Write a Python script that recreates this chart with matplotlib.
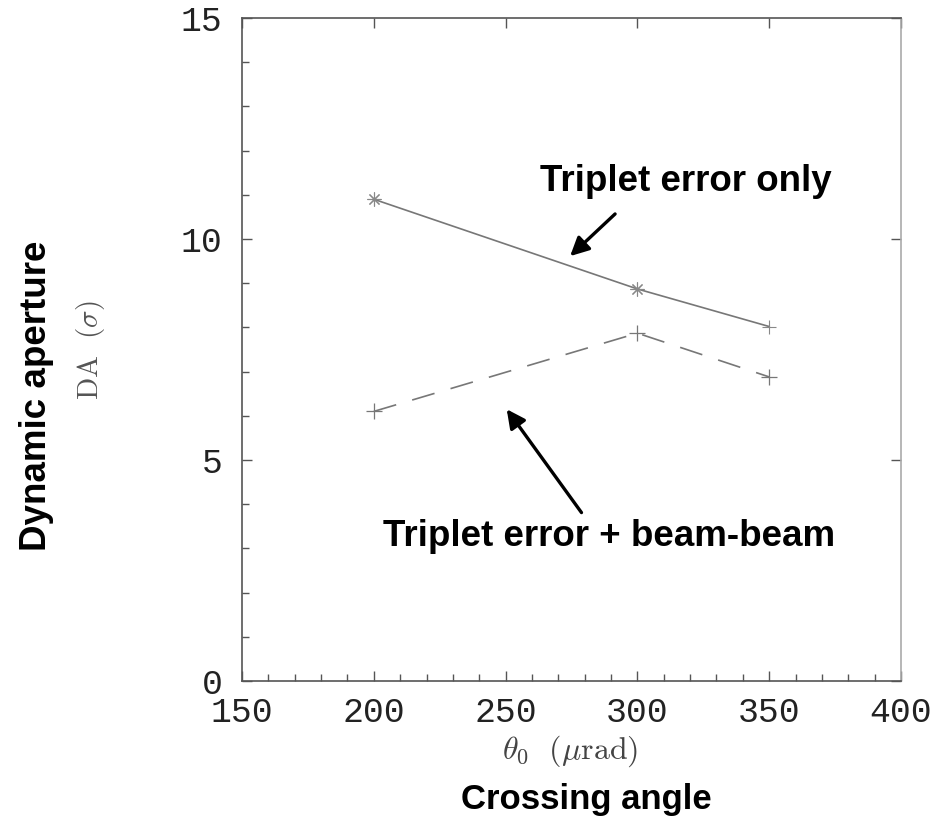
import matplotlib
matplotlib.use('Agg')
import matplotlib.pyplot as plt
from matplotlib.ticker import MultipleLocator

plt.rcParams['mathtext.fontset'] = 'cm'

# crossing angle (urad) and dynamic aperture (sigma)
angles = [200, 300, 350]
da_triplet = [10.9, 8.87, 8.02]
da_beambeam = [6.1, 7.87, 6.88]
triplet_markers = [(8, 2, 0), (8, 2, 0), '+']

LINE_COL = '#777777'

fig = plt.figure(figsize=(9.33, 8.26), dpi=100)
ax = fig.add_axes([0.2594, 0.1755, 0.7063, 0.8027])

ax.plot(angles, da_triplet, '-', color=LINE_COL, lw=1.2)
for a, d, m in zip(angles, da_triplet, triplet_markers):
    ax.plot(a, d, marker=m, ms=10, mew=0.8, color='#888888', ls='none')
ax.plot(angles, da_beambeam, '--', color=LINE_COL, lw=1.2, dashes=(14, 10))
ax.plot(angles, da_beambeam, '+', ms=11, mew=0.9, color=LINE_COL, ls='none')

ax.set_xlim(150, 400)
ax.set_ylim(0, 15)
ax.xaxis.set_major_locator(MultipleLocator(50))
ax.xaxis.set_minor_locator(MultipleLocator(10))
ax.yaxis.set_major_locator(MultipleLocator(5))
ax.yaxis.set_minor_locator(MultipleLocator(1))
ax.tick_params(which='both', direction='in', top=True, right=True, color='#555555')
ax.tick_params(which='major', length=7, width=1)
ax.tick_params(which='minor', length=5, width=1, top=False, right=False)
ax.tick_params(axis='x', pad=11)
ax.tick_params(axis='y', pad=14)
for lab in ax.get_xticklabels() + ax.get_yticklabels():
    lab.set_family('Liberation Mono')
    lab.set_fontsize(25)
    lab.set_color('#222222')
for s in ax.spines.values():
    s.set_color('#555555')
    s.set_linewidth(1.2)
ax.spines['right'].set_color('#aaaaaa')

# axis titles
fig.text(0.611, 0.09, r'$\theta_0\ \ (\mu\mathrm{rad})$', fontsize=23, ha='center', va='center', color='#444444')
fig.text(0.628, 0.0315, 'Crossing angle', fontsize=25, fontweight='bold',
         family='Liberation Sans', ha='center', va='center')
fig.text(0.097, 0.576, r'$\mathrm{DA}\ \ (\sigma)$', fontsize=21, rotation=90,
         ha='center', va='center', color='#555555')
fig.text(0.0395, 0.5206, 'Dynamic aperture', fontsize=26.5, fontweight='bold',
         family='Liberation Sans', rotation=90, ha='center', va='center')

# annotations
ax.annotate('', xy=(273.7, 9.57), xytext=(292.3, 10.61),
            arrowprops=dict(arrowstyle='-|>', color='black', lw=2.4, mutation_scale=28))
ax.text(318.2, 11.3, 'Triplet error only', fontsize=26.5, fontweight='bold',
        family='Liberation Sans', ha='center', va='center')
ax.annotate('', xy=(249.8, 6.2), xytext=(279.4, 3.76),
            arrowprops=dict(arrowstyle='-|>', color='black', lw=2.4, mutation_scale=28))
ax.text(289.3, 3.27, 'Triplet error + beam-beam', fontsize=26.5, fontweight='bold',
        family='Liberation Sans', ha='center', va='center')

fig.savefig('out.png', dpi=100)
